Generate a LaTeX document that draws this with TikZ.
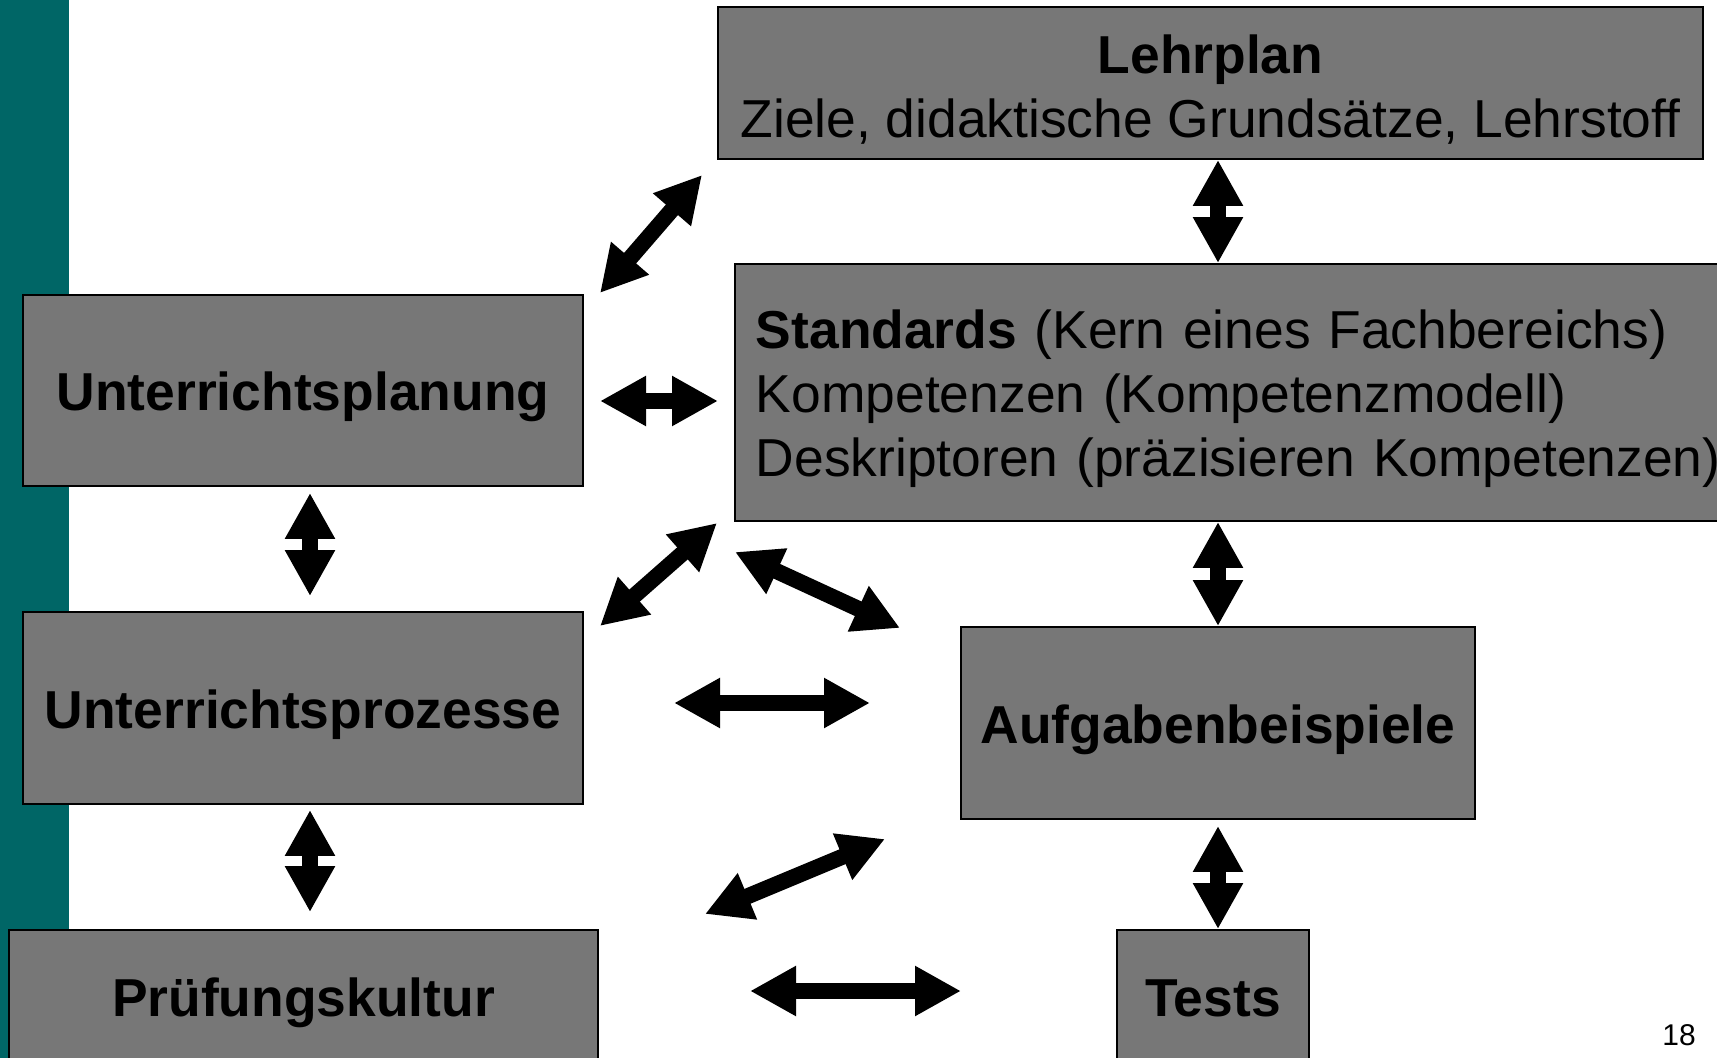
\documentclass[tikz,border=0pt]{standalone}
\usepackage{fontspec}
\setmainfont{Liberation Sans}
\usetikzlibrary{arrows.meta}
\definecolor{slideteal}{RGB}{0,102,102}
\definecolor{boxgray}{RGB}{119,119,119}
\newcommand{\toprule}{\rule{0pt}{26pt}}

\begin{document}
\begin{tikzpicture}[x=0.5pt, y=-0.5pt,
   box/.style={draw=black, line width=0.9pt, fill=boxgray, inner sep=0pt,
      font=\fontsize{26.7}{32}\selectfont},
   boldbox/.style={box, font=\fontsize{26.7}{32}\selectfont\bfseries,
      text height=25.9pt, text depth=5.6pt},
   dbl/.style={line width=8pt,
      {Triangle[width=23.5pt,length=23pt]}-{Triangle[width=23.5pt,length=23pt]}}]
   \useasboundingbox (0,0) rectangle (1717,1058);
   \clip (0,0) rectangle (1717,1058);
   \fill[slideteal] (0,0) rectangle (69,1058);
   % Kaesten
   \node[box, minimum width=492.5pt, minimum height=76pt, align=center] (lehrplan) at (1210.5,83)
      {\toprule\textbf{Lehrplan}\\Ziele, didaktische Grundsätze, Lehrstoff};
   \node[box, anchor=west, text width=490pt, inner xsep=10.5pt, minimum height=128.5pt, align=left] (standards) at (734,392.5)
      {\toprule\textbf{Standards} (Kern eines Fachbereichs)\\Kompetenzen (Kompetenzmodell)\\Deskriptoren (präzisieren Kompetenzen)};
   \node[boldbox, minimum width=280pt, minimum height=95.5pt] (planung) at (303,390.5) {Unterrichtsplanung};
   \node[boldbox, minimum width=280pt, minimum height=96pt] (prozesse) at (303,708) {Unterrichtsprozesse};
   \node[boldbox, minimum width=294.5pt, minimum height=66pt] (pruefung) at (303.5,996) {Prüfungskultur};
   \node[boldbox, minimum width=257pt, minimum height=96pt] (aufgaben) at (1218,723) {Aufgabenbeispiele};
   \node[boldbox, minimum width=96pt, minimum height=66pt] (tests) at (1213,996) {Tests};
   \node[font=\fontsize{15}{18}\selectfont] (seite) at (1679,1035) {18};
   % Pfeile zwischen den Kaesten
   \draw[dbl] (lehrplan.south -| aufgaben.north) -- (standards.north -| aufgaben.north);
   \draw[dbl] (standards.south -| aufgaben.north) -- (aufgaben.north);
   \draw[dbl, shorten <=3pt] (aufgaben.south) -- (tests.north -| aufgaben.south);
   \draw[dbl, shorten <=3pt, shorten >=7.5pt] ([xshift=3.5pt]planung.south) -- ([xshift=3.5pt]planung.south |- prozesse.north);
   \draw[dbl, shorten <=2.5pt, shorten >=8.5pt] ([xshift=3.5pt]prozesse.south) -- ([xshift=3.5pt]prozesse.south |- pruefung.north);
   % freie Pfeile
   \coordinate (pl-a) at (600,293);  \coordinate (pl-b) at (702,175);
   \coordinate (ps-a) at (600,401);  \coordinate (ps-b) at (718,401);
   \coordinate (us-a) at (600,626);  \coordinate (us-b) at (717,523);
   \coordinate (sa-a) at (735,552);  \coordinate (sa-b) at (900,628);
   \coordinate (ua-a) at (674,703);  \coordinate (ua-b) at (870,703);
   \coordinate (pa-a) at (705,914);  \coordinate (pa-b) at (885,839);
   \coordinate (pt-a) at (750,991);  \coordinate (pt-b) at (961,991);
   \draw[dbl] (pl-a) -- (pl-b);
   \draw[dbl] (ps-a) -- (ps-b);
   \draw[dbl] (us-a) -- (us-b);
   \draw[dbl] (sa-a) -- (sa-b);
   \draw[dbl] (ua-a) -- (ua-b);
   \draw[dbl] (pa-a) -- (pa-b);
   \draw[dbl] (pt-a) -- (pt-b);
\end{tikzpicture}
\end{document}
